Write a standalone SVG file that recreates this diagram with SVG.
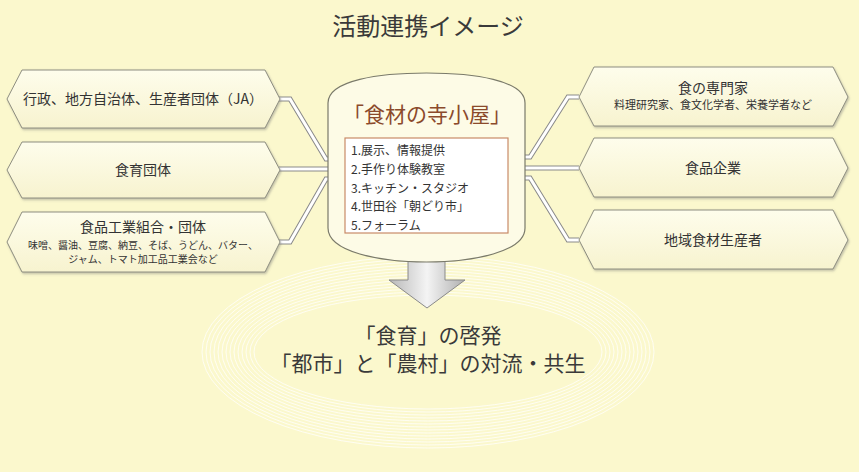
<svg xmlns="http://www.w3.org/2000/svg" width="859" height="472" viewBox="0 0 859 472">
<defs>
<linearGradient id="hexg" x1="0" y1="0" x2="0" y2="1">
<stop offset="0" stop-color="#fefdec"/>
<stop offset="1" stop-color="#f7f3cf"/>
</linearGradient>
<linearGradient id="arrg" x1="0" y1="0" x2="1" y2="0">
<stop offset="0" stop-color="#b8b8b8"/>
<stop offset="0.5" stop-color="#f4f4f4"/>
<stop offset="1" stop-color="#b0b0b0"/>
</linearGradient>
<filter id="sh" x="-5%" y="-10%" width="110%" height="130%">
<feDropShadow dx="1" dy="1.5" stdDeviation="0.8" flood-color="#777" flood-opacity="0.45"/>
</filter>
</defs>
<style>
text{font-family:"Noto Sans CJK JP","Noto Sans",sans-serif;fill:#333;}
.hex{fill:url(#hexg);stroke:#8e8e80;stroke-width:1;filter:url(#sh);}
.t14{font-size:14px;text-anchor:middle;}
.s10{font-size:10px;text-anchor:middle;}
.s11{font-size:11px;text-anchor:middle;}
.outer{fill:none;stroke:#8a8a8a;stroke-width:5;stroke-linejoin:miter;}
.inner{fill:none;stroke:#fff;stroke-width:3;stroke-linejoin:miter;}
.ah{fill:#fff;stroke:#8a8a8a;stroke-width:1;}
.ring{fill:none;stroke:#fff;stroke-width:1;opacity:0.75;}
.li{font-size:12px;}
</style>
<rect width="859" height="472" fill="#fbf8cd"/>
<g id="rings">
<ellipse class="ring" cx="428" cy="352" rx="226" ry="96"/>
<ellipse class="ring" cx="428" cy="352" rx="222" ry="93"/>
<ellipse class="ring" cx="428" cy="352" rx="218" ry="90"/>
<ellipse class="ring" cx="428" cy="352" rx="214" ry="87"/>
<ellipse class="ring" cx="428" cy="352" rx="210" ry="84"/>
<ellipse class="ring" cx="428" cy="352" rx="206" ry="81"/>
<ellipse class="ring" cx="428" cy="352" rx="202" ry="78"/>
<ellipse class="ring" cx="428" cy="352" rx="198" ry="75"/>
<ellipse class="ring" cx="428" cy="352" rx="194" ry="72"/>
<ellipse class="ring" cx="428" cy="352" rx="190" ry="69"/>
<ellipse class="ring" cx="428" cy="352" rx="186" ry="66"/>
<ellipse class="ring" cx="428" cy="352" rx="182" ry="63"/>
<ellipse class="ring" cx="428" cy="352" rx="178" ry="60"/>
<ellipse class="ring" cx="428" cy="352" rx="174" ry="57"/>
</g>
<text x="428" y="35" style="font-size:24px;text-anchor:middle;fill:#3a3a3a">活動連携イメージ</text>
<g id="connectors">
<path class="outer" d="M279,99 L290,99 L326,159 L338,159"/>
<path class="inner" d="M279,99 L290,99 L326,159 L338,159"/>
<path class="outer" d="M279,169 L338,169"/>
<path class="inner" d="M279,169 L338,169"/>
<path class="outer" d="M279,242 L290,242 L326,179 L338,179"/>
<path class="inner" d="M279,242 L290,242 L326,179 L338,179"/>
<polygon class="ah" points="347,159 337,154 337,164"/>
<polygon class="ah" points="347,169 337,164 337,174"/>
<polygon class="ah" points="347,179 337,174 337,184"/>
<path class="outer" d="M579,97 L568,97 L530,157 L518,157"/>
<path class="inner" d="M579,97 L568,97 L530,157 L518,157"/>
<path class="outer" d="M579,168 L518,168"/>
<path class="inner" d="M579,168 L518,168"/>
<path class="outer" d="M579,240 L568,240 L530,178 L518,178"/>
<path class="inner" d="M579,240 L568,240 L530,178 L518,178"/>
<polygon class="ah" points="508,157 518,152 518,162"/>
<polygon class="ah" points="508,168 518,163 518,173"/>
<polygon class="ah" points="508,178 518,173 518,183"/>
<polygon points="408,256 445,256 445,280 465,280 427,308 389,280 408,280" fill="url(#arrg)" stroke="#8a8a8a" stroke-width="1"/>
</g>
<g id="n_gyosei">
<polygon class="hex" points="7,99 22,70 265,70 280,99 265,128 22,128"/>
<text class="t14" x="143" y="104">行政、地方自治体、生産者団体（JA）</text>
</g>
<g id="n_shokuiku">
<polygon class="hex" points="7,170 22,142 265,142 280,170 265,198 22,198"/>
<text class="t14" x="143" y="175">食育団体</text>
</g>
<g id="n_kogyo">
<polygon class="hex" points="7,242 22,212 265,212 280,242 265,272 22,272"/>
<text class="t14" x="143" y="232">食品工業組合・団体</text>
<text class="s10" x="143" y="249">味噌、醤油、豆腐、納豆、そば、うどん、バター、</text>
<text class="s10" x="143" y="263">ジャム、トマト加工品工業会など</text>
</g>
<g id="n_senmon">
<polygon class="hex" points="579,97 594,67 833,67 848,97 833,126 594,126"/>
<text class="t14" x="713" y="93">食の専門家</text>
<text class="s11" x="713" y="109">料理研究家、食文化学者、栄養学者など</text>
</g>
<g id="n_kigyo">
<polygon class="hex" points="579,168 594,138 833,138 848,168 833,197 594,197"/>
<text class="t14" x="713" y="173">食品企業</text>
</g>
<g id="n_seisan">
<polygon class="hex" points="579,240 594,210 833,210 848,240 833,269 594,269"/>
<text class="t14" x="713" y="245">地域食材生産者</text>
</g>
<g id="n_terakoya">
<path d="M328,228 L328,103 C328,80 380,73 426.5,73 C473,73 525,80 525,103 L525,228 C525,252 473,262 426.5,262 C380,262 328,252 328,228 Z" fill="#fdfbe6" stroke="#7a7a6a" stroke-width="1.2"/>
<text x="427" y="122" style="font-size:21px;text-anchor:middle;fill:#8b4a2b">「食材の寺小屋」</text>
<rect x="345" y="138" width="163" height="95" fill="#ffffff" stroke="#c98a68" stroke-width="1.2"/>
<text class="li" x="351" y="155">1.展示、情報提供</text>
<text class="li" x="351" y="174">2.手作り体験教室</text>
<text class="li" x="351" y="193">3.キッチン・スタジオ</text>
<text class="li" x="351" y="211">4.世田谷「朝どり市」</text>
<text class="li" x="351" y="230">5.フォーラム</text>
</g>
<g id="n_result">
<text x="428" y="343" style="font-size:21px;text-anchor:middle;fill:#3a3a3a">「食育」の啓発</text>
<text x="428" y="371" style="font-size:21px;text-anchor:middle;fill:#3a3a3a">「都市」と「農村」の対流・共生</text>
</g>
</svg>
